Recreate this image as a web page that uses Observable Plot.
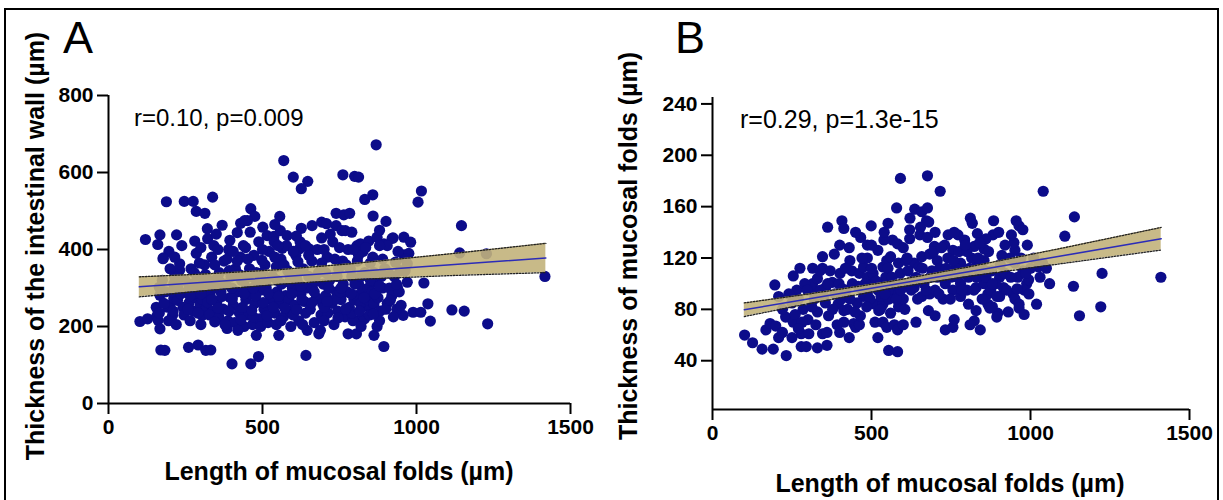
<!DOCTYPE html>
<html><head><meta charset="utf-8">
<script src="https://cdn.jsdelivr.net/npm/d3@7"></script>
<script src="https://cdn.jsdelivr.net/npm/@observablehq/plot@0.6"></script>
<style>
body{margin:0;background:#fff;}
#wrap{position:relative;width:1223px;height:500px;overflow:hidden;font-family:"Liberation Sans",Arial,sans-serif;}
#wrap > svg{position:absolute;}
</style></head><body><div id="wrap"></div>
<script>
// Panel A: length of mucosal folds (µm) vs thickness of the intestinal wall (µm)
const ptsA = [
[869,672],[569,631],[600,588],[647,577],[626,558],[761,594],[799,590],[812,588],[858,542],[832,530],[1016,552],[1005,523],
[188,524],[246,525],[275,525],[338,536],[285,499],[313,494],[462,506],[475,486],[451,475],[556,486],[739,494],[764,490],[783,494],[859,487],[901,473],[1146,462],
[120,426],[167,438],[160,413],[221,438],[196,395],[178,378],[280,422],[321,454],[322,428],[369,463],[394,424],[418,444],[429,468],[442,475],[501,458],[515,436],[537,434],[558,449],[580,436],[564,403],[626,455],[620,402],[651,402],[661,462],[692,471],[708,467],[692,430],[739,462],[758,449],[769,449],[807,410],[818,415],[845,422],[872,432],[894,415],[921,429],[924,430],[959,432],[981,419],[905,410],[959,386],[975,390],[932,367],[948,345],[964,376],[1140,391],[1227,389],[1417,330],
[102,213],[127,220],[157,227],[161,216],[167,194],[170,139],[183,138],[167,281],[165,302],[177,376],[208,229],[199,255],[212,272],[224,268],[212,311],[231,346],[231,363],[260,146],[291,152],[316,138],[332,139],[304,229],[401,103],[462,103],[487,122],[480,177],[553,177],[641,125],[683,181],[778,181],[805,181],[862,177],[894,148],[957,229],[989,237],[1014,237],[1037,259],[1045,214],[1024,313],[1115,243],[1155,240],[1231,207],[938,302],[970,315],[963,345],[970,363],[850,246],[837,255],[812,216],[831,220],
[255,290],[262,262],[270,310],[275,240],[282,275],[288,330],[295,300],[268,350],[285,390],[298,255],[276,285],
[305,270],[310,295],[318,250],[325,320],[330,280],[338,240],[345,300],[312,360],[335,380],[342,410],[328,230],
[352,265],[358,225],[365,290],[372,245],[380,310],[388,215],[395,275],[360,340],[375,370],[390,400],[398,330],[385,195],
[405,255],[410,210],[418,290],[425,235],[432,320],[440,200],[446,270],[412,350],[428,380],[438,410],[448,300],[420,190],
[455,230],[462,285],[468,205],[475,260],[482,315],[490,220],[497,295],[458,350],[472,385],[488,420],[494,200],[480,340],
[505,245],[512,300],[518,210],[525,270],[532,330],[540,235],[547,290],[508,360],[522,395],[538,420],[545,205],
[555,260],[562,310],[568,225],[575,280],[582,345],[590,240],[597,300],[560,375],[578,410],[592,200],[585,270],
[605,255],[612,320],[618,215],[625,285],[632,350],[640,235],[647,300],[608,385],[622,420],[645,190],[636,265],
[655,245],[662,300],[668,210],[675,275],[682,340],[690,230],[697,310],[660,370],[678,400],[695,260],[688,190],
[705,280],[712,235],[718,320],[725,260],[732,205],[740,290],[747,350],[710,380],[728,420],[744,240],
[755,270],[762,310],[768,225],[775,290],[782,250],[790,330],[797,270],[760,370],[778,400],[794,215],
[805,280],[812,310],[818,260],[825,295],[832,340],[840,270],[847,230],[808,370],[826,395],[843,300],
[855,290],[862,260],[868,315],[875,275],[882,240],[890,300],[897,350],[858,380],[872,200],[886,330],
[905,260],[912,300],[920,280],[928,330],[936,245],[944,290],
[205,290],[215,330],[225,300],[235,285],[242,250],[248,320],[238,410],[185,290],[192,250],[175,320],
[155,250],[165,235],[180,260],[195,215],[210,240],[220,205],[230,320],[245,230],[200,350],[215,380],
[265,215],[300,205],[345,212],[378,205],[430,218],[470,225],[515,228],[560,215],[600,230],[630,205],[700,215],[745,222],[790,235],[820,200],[880,215],[925,225],
[258,245],[290,235],[322,262],[355,248],[392,240],[435,250],[465,242],[502,262],[535,250],[572,248],[612,244],[660,262],[700,250],[735,270],[770,245],[815,240],[860,232],[900,245],[950,255],
[265,280],[300,285],[335,270],[368,278],[402,272],[440,285],[478,280],[520,285],[552,278],[595,285],[628,270],[668,290],[710,265],[752,290],[788,285],[830,275],[865,285],[915,268],
[262,305],[298,315],[332,305],[362,315],[400,300],[445,325],[470,300],[510,315],[548,320],[588,315],[625,305],[672,318],[715,300],[755,300],[800,310],[850,320],[880,305],[935,310],
[278,340],[315,335],[355,330],[392,345],[425,335],[465,330],[500,340],[545,355],[590,330],[615,340],[650,330],[705,340],[742,330],[785,350],[820,330],[862,340],[908,340],
[295,365],[345,360],[385,375],[418,370],[452,375],[498,372],[540,380],[570,360],[615,368],[650,385],[692,365],[735,375],[772,360],[812,385],[850,365],[890,375],[940,395],
[300,405],[355,400],[405,395],[445,405],[500,400],[550,410],[600,395],[640,410],[700,400],[750,405],[795,400],[835,405],[880,410],
[350,440],[460,445],[610,435],[720,440],[790,445],[880,450],[540,465]
];
// Panel A fit line and 95% band
const fitAx   = [100, 300, 560, 800, 1100, 1420];
const fitAmid = [303, 314, 329, 343, 360, 378];
const fitAlo  = [277, 292, 310, 322, 332, 340];
const fitAhi  = [329, 336, 348, 364, 388, 416];

// Panel B: length of mucosal folds (µm) vs thickness of mucosal folds (µm)
const ptsB = [
[591,182],[676,184],[716,172],[1040,172],[1138,152],[1108,137],[362,144],[407,149],[413,143],[466,136],[487,130],[499,145],[552,147],[579,159],[621,151],[636,158],[658,156],[676,159],[673,149],[654,144],[652,138],[676,136],[741,138],[772,138],[811,151],[817,147],[833,139],[793,134],[884,149],[882,138],[955,149],[964,145],[976,142],[566,134],[539,134],[582,131],[698,129],[756,126],[854,127],[823,129],[951,126],
[101,60],[126,54],[156,49],[191,49],[168,64],[181,69],[199,67],[208,58],[196,99],[208,90],[232,44],[230,74],[254,70],[254,106],[279,51],[295,51],[279,61],[303,61],[309,95],[315,100],[315,112],[275,112],[346,121],[346,112],[346,61],[383,123],[356,97],[377,101],[401,108],[395,84],[413,79],[413,70],[444,69],[450,66],[462,68],[432,118],[438,110],[462,108],[475,113],[487,120],[487,105],[499,99],[487,92],[511,84],[523,79],[471,95],[475,90],[511,70],[536,70],[536,113],[548,118],[560,121],[585,116],[609,118],[536,100],[560,95],[585,92],[597,100],[554,48],[582,47],[548,66],[572,68],[582,64],[585,82],[560,77],[536,84],[609,100],[634,97],[658,103],[634,116],[658,121],[683,123],[707,118],[679,79],[658,90],[683,92],[707,105],[732,100],[744,110],[732,64],[756,66],[756,95],[780,100],[805,105],[780,90],[805,84],[829,79],[823,71],[842,64],[829,97],[854,100],[866,92],[780,116],[829,113],[854,118],[878,110],[866,84],[872,81],[897,77],[903,105],[915,97],[903,90],[945,92],[951,88],[964,84],[951,116],[976,110],[988,100],[964,81],[1019,84],[1025,113],[1038,116],[994,103],[1135,98],[1154,75],[1225,108],[1221,82],[1410,105],[894,74],
[250,85],[265,95],[285,80],[300,72],[320,88],[330,78],[340,95],[355,85],[365,75],[370,110],[385,92],[398,100],[405,88],[420,95],[425,80],[440,100],[455,85],[465,75],[480,100],[495,88],[505,108],[520,95],[530,90],[545,105],[555,88],[570,100],[590,108],[600,88],[615,110],[625,95],[640,105],[650,113],[665,100],[690,110],[700,95],[715,112],[725,88],[740,120],[750,105],[765,112],[775,125],[790,108],[800,95],[815,120],[830,105],[845,112],[860,105],[875,95],[890,100],[905,115],[920,108],[935,120],[960,105],[980,95],[1000,112],[290,100],[330,104],[360,62],[400,62],[430,58],[240,92],[220,80],[260,76],
[600,128],[620,135],[700,140],[730,130],[800,125],[860,135],[920,130],[430,128],[520,126],
[270,88],[282,70],[298,95],[312,82],[325,68],[338,110],[350,90],[362,100],[378,80],[392,68],[408,96],[418,112],[432,88],[448,78],[458,98],[470,120],[485,82],[500,112],[515,102],[528,80],[542,92],[552,112],[565,105],[578,88],[592,95],[605,80],[612,120],[628,102],[645,88],[660,112],[672,95],[685,105],[695,125],[712,92],[722,105],[735,112],[748,88],[758,118],[770,105],[785,95],[795,130],[808,112],[822,95],[835,120],[848,88],[858,110],[868,125],[880,100],[895,90],[910,122],[925,95],[938,105],[948,132],[958,96],[970,120],[985,108],[995,92],[1010,120],[1030,105],
[400,130],[450,140],[500,130],[540,140],[620,142],[680,148],[720,128],[760,140],[840,132],[900,140],[940,138],[990,130],
[330,50],[360,52],[250,58],[220,62],[270,65],[520,58],[600,68],[640,70],[700,75],[760,72],[810,68],[880,82],[930,78],[980,76],[1050,112],[1060,100]
];
const fitBx   = [100, 300, 560, 800, 1100, 1411];
const fitBmid = [79.7, 88.1, 99, 109.1, 121.7, 135];
const fitBlo  = [74.4, 84.3, 96.2, 105.5, 115.7, 126.2];
const fitBhi  = [85, 91.9, 101.8, 112.8, 127.7, 143.8];

const xTicks = [0, 500, 1000, 1500];
const yTicksA = [0, 200, 400, 600, 800];
const yTicksB = [40, 80, 120, 160, 200, 240];

const navy = "#0c0c8a", tan = "#c2b37b", fitBlue = "#2c2cb8";
const font = "'Liberation Sans', Arial, sans-serif";

function rows(xs, lo, mid, hi) { return xs.map((x, i) => ({x, lo: lo[i], mid: mid[i], hi: hi[i]})); }

function panel({pts, band, xDom, yDom, yTicks, width, mTop, mBottom, mLeft, mRight}) {
  return Plot.plot({
    width, height: 500,
    marginLeft: mLeft, marginRight: mRight, marginTop: mTop, marginBottom: mBottom,
    x: {domain: xDom}, y: {domain: yDom},
    style: {fontFamily: font, fontSize: "21px", fontWeight: "bold", color: "#000", background: "transparent", overflow: "visible"},
    marks: [
      Plot.dot(pts, {x: d => d[0], y: d => d[1], r: 5.6, fill: navy, stroke: null}),
      Plot.areaY(band, {x: "x", y1: "lo", y2: "hi", fill: tan, fillOpacity: 0.9}),
      Plot.line(band, {x: "x", y: "lo", stroke: "#222", strokeWidth: 1.3, strokeDasharray: "1.5,1.5"}),
      Plot.line(band, {x: "x", y: "hi", stroke: "#222", strokeWidth: 1.3, strokeDasharray: "1.5,1.5"}),
      Plot.line(band, {x: "x", y: "mid", stroke: fitBlue, strokeWidth: 1.5}),
      Plot.ruleX([xDom[0]], {y1: yDom[0], y2: yDom[1], stroke: "#000", strokeWidth: 2}),
      Plot.ruleY([yDom[0]], {x1: xDom[0], x2: xDom[1], stroke: "#000", strokeWidth: 2}),
      Plot.axisX({ticks: xTicks, tickSize: 11, tickPadding: 5, strokeWidth: 2, label: null, tickFormat: d => String(d), fontSize: 21, fontWeight: "bold"}),
      Plot.axisY({ticks: yTicks, tickSize: 11, tickPadding: 4, strokeWidth: 2, label: null, tickFormat: d => String(d), fontSize: 21, fontWeight: "bold"})
    ]
  });
}

const wrap = document.getElementById("wrap");
const svgA = panel({pts: ptsA, band: rows(fitAx, fitAlo, fitAmid, fitAhi), xDom: [0, 1500], yDom: [0, 800], yTicks: yTicksA,
  width: 600, mTop: 95, mBottom: 97, mLeft: 108, mRight: 30});
svgA.style.left = "0px"; svgA.style.top = "0px";
wrap.appendChild(svgA);
const svgB = panel({pts: ptsB, band: rows(fitBx, fitBlo, fitBmid, fitBhi), xDom: [0, 1500], yDom: [2, 245], yTicks: yTicksB,
  width: 613, mTop: 97, mBottom: 91, mLeft: 102, mRight: 34});
svgB.style.left = "610px"; svgB.style.top = "0px";
wrap.appendChild(svgB);

// Overlay texts and frame
const ov = d3.select(wrap).append("svg").attr("width", 1223).attr("height", 500)
  .style("left", "0px").style("top", "0px").style("font-family", font);
ov.append("rect").attr("x", 5).attr("y", 9).attr("width", 1213).attr("height", 505)
  .attr("fill", "none").attr("stroke", "#000").attr("stroke-width", 2);
const texts = [
  {t: "A", x: 63, y: 53, s: 45, w: "normal", a: "start"},
  {t: "B", x: 675, y: 53, s: 45, w: "normal", a: "start"},
  {t: "r=0.10, p=0.009", x: 134, y: 126, s: 24, w: "normal", a: "start"},
  {t: "r=0.29, p=1.3e-15", x: 740, y: 128, s: 25, w: "normal", a: "start"},
  {t: "Length of mucosal folds (µm)", x: 339, y: 480, s: 25, w: "bold", a: "middle"},
  {t: "Length of mucosal folds (µm)", x: 950, y: 492, s: 25, w: "bold", a: "middle"}
];
texts.forEach(d => ov.append("text").text(d.t).attr("x", d.x).attr("y", d.y)
  .attr("font-size", d.s).attr("font-weight", d.w).attr("text-anchor", d.a).attr("fill", "#000"));
const yTitles = [
  {t: "Thickness of the intestinal wall (µm)", x: 44, y: 246},
  {t: "Thickness of mucosal folds (µm)", x: 637, y: 246}
];
yTitles.forEach(d => ov.append("text").text(d.t).attr("transform", `translate(${d.x},${d.y}) rotate(-90)`)
  .attr("font-size", 25).attr("font-weight", "bold").attr("text-anchor", "middle").attr("fill", "#000"));
</script></body></html>
